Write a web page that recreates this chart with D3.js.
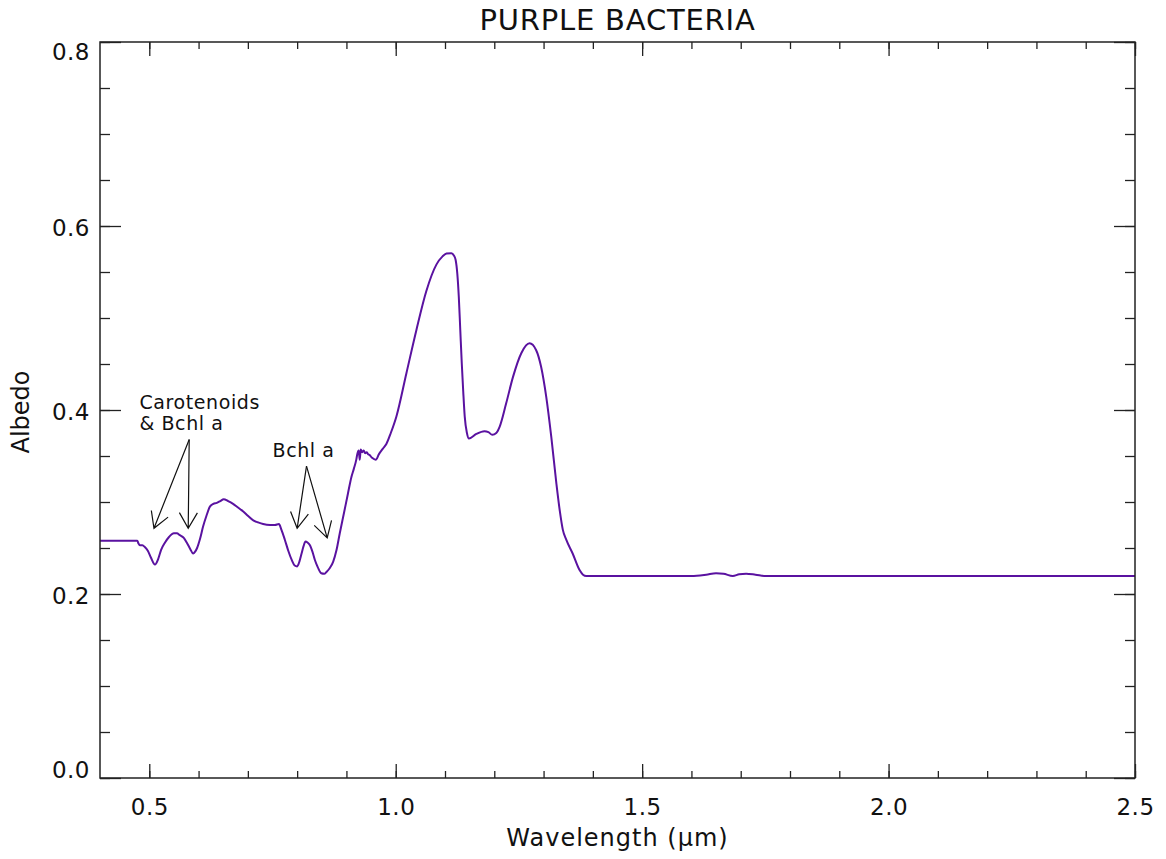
<!DOCTYPE html>
<html>
<head>
<meta charset="utf-8">
<script src="https://cdn.jsdelivr.net/npm/d3@7"></script>
<style>
  html, body { margin: 0; padding: 0; background: #fff; }
  svg { display: block; }
  text { font-family: "DejaVu Sans", sans-serif; fill: #111; }
</style>
</head>
<body>
<div id="chart"></div>
<script>
// Reflectance spectrum of purple bacteria (wavelength in µm, albedo)
const wavelength = [
  0.400, 0.4756, 0.478, 0.481, 0.486, 0.491, 0.497, 0.503, 0.5115, 0.518,
  0.524, 0.532, 0.540, 0.550, 0.556, 0.562, 0.570, 0.577, 0.583, 0.589,
  0.593, 0.597, 0.603, 0.609, 0.616, 0.623, 0.630, 0.637, 0.644, 0.651,
  0.660, 0.670, 0.680, 0.690, 0.700, 0.711, 0.720, 0.731, 0.745, 0.755,
  0.763, 0.768, 0.775, 0.782, 0.789, 0.795, 0.800, 0.805, 0.809, 0.813,
  0.817, 0.821, 0.826, 0.831, 0.836, 0.842, 0.849, 0.855, 0.8595, 0.866,
  0.873, 0.880, 0.8865, 0.895, 0.903, 0.910, 0.915, 0.920, 0.922, 0.925,
  0.927, 0.929, 0.932, 0.935, 0.938, 0.941, 0.944, 0.947, 0.952, 0.9595,
  0.966, 0.974, 0.981, 0.990, 1.0014, 1.0217, 1.042, 1.062, 1.0825, 1.095,
  1.103, 1.113, 1.118, 1.1216, 1.125, 1.128, 1.131, 1.134, 1.137, 1.140,
  1.1445, 1.1486, 1.1636, 1.180, 1.188, 1.196, 1.204, 1.211, 1.224, 1.238,
  1.255, 1.2716, 1.285, 1.295, 1.3055, 1.3156, 1.326, 1.333, 1.339, 1.346,
  1.359, 1.373, 1.380, 1.3866, 1.600, 1.630, 1.650, 1.665, 1.684, 1.697,
  1.711, 1.730, 1.751, 2.500
];
const albedo = [
  0.258, 0.258, 0.255, 0.253, 0.253, 0.251, 0.247, 0.240, 0.232, 0.238,
  0.248, 0.256, 0.262, 0.266, 0.266, 0.264, 0.261, 0.255, 0.249, 0.244,
  0.246, 0.250, 0.260, 0.273, 0.285, 0.295, 0.298, 0.299, 0.301, 0.303,
  0.301, 0.298, 0.294, 0.290, 0.285, 0.280, 0.278, 0.276, 0.275, 0.275,
  0.276, 0.270, 0.259, 0.247, 0.237, 0.231, 0.230, 0.236, 0.244, 0.252,
  0.257, 0.256, 0.253, 0.246, 0.237, 0.229, 0.2225, 0.222, 0.224, 0.228,
  0.235, 0.248, 0.266, 0.288, 0.309, 0.327, 0.336, 0.346, 0.352, 0.356,
  0.346, 0.357, 0.354, 0.356, 0.353, 0.354, 0.352, 0.351, 0.348, 0.346,
  0.352, 0.358, 0.363, 0.375, 0.393, 0.440, 0.487, 0.529, 0.558, 0.567,
  0.570, 0.5705, 0.568, 0.563, 0.548, 0.523, 0.487, 0.451, 0.420, 0.393,
  0.375, 0.369, 0.374, 0.377, 0.376, 0.373, 0.375, 0.382, 0.407, 0.436,
  0.462, 0.4725, 0.465, 0.447, 0.414, 0.371, 0.320, 0.290, 0.270, 0.259,
  0.244, 0.226, 0.221, 0.2196, 0.2196, 0.221, 0.2225, 0.222, 0.2196, 0.2215,
  0.222, 0.221, 0.2196, 0.2196
];

// Axis ticks
const xMajorTicks = [0.5, 1.0, 1.5, 2.0, 2.5];
const xMinorTicks = [0.5, 0.6, 0.7, 0.8, 0.9, 1.0, 1.1, 1.2, 1.3, 1.4, 1.5, 1.6, 1.7, 1.8, 1.9, 2.0, 2.1, 2.2, 2.3, 2.4, 2.5];
const yMajorTicks = [0.0, 0.2, 0.4, 0.6, 0.8];
const yMinorTicks = [0.0, 0.05, 0.1, 0.15, 0.2, 0.25, 0.3, 0.35, 0.4, 0.45, 0.5, 0.55, 0.6, 0.65, 0.7, 0.75, 0.8];

// Annotation labels and arrows (data coordinates)
const labels = [
  { text: "Carotenoids", x: 0.480, y: 0.4015 },
  { text: "& Bchl a", x: 0.480, y: 0.3785 },
  { text: "Bchl a", x: 0.750, y: 0.349 }
];
const arrows = [
  { from: [0.581, 0.368], to: [0.5095, 0.2714] },
  { from: [0.581, 0.368], to: [0.579, 0.2714] },
  { from: [0.819, 0.339], to: [0.800, 0.2714] },
  { from: [0.819, 0.339], to: [0.861, 0.261] }
];

const W = 1166, H = 859;
const margin = { top: 42, right: 31, bottom: 81, left: 100 };
const iw = W - margin.left - margin.right;
const ih = H - margin.top - margin.bottom;

const svg = d3.select("#chart").append("svg")
  .attr("width", W).attr("height", H);

const x = d3.scaleLinear().domain([0.4, 2.5]).range([0, iw]);
const y = d3.scaleLinear().domain([0, 0.8]).range([ih, 0]);

const g = svg.append("g").attr("transform", `translate(${margin.left},${margin.top})`);

// Spectrum line
const pts = wavelength.map((w, i) => [w, albedo[i]]);
const line = d3.line()
  .x(d => x(d[0]))
  .y(d => y(d[1]))
  .curve(d3.curveMonotoneX);

g.append("path")
  .datum(pts)
  .attr("fill", "none")
  .attr("stroke", "#5a12a0")
  .attr("stroke-width", 2)
  .attr("stroke-linejoin", "round")
  .attr("d", line);

// Frame
g.append("rect")
  .attr("x", 0).attr("y", 0).attr("width", iw).attr("height", ih)
  .attr("fill", "none").attr("stroke", "#222").attr("stroke-width", 1.5);

// Tick marks on all four sides (pointing inward)
const styleAxis = sel => {
  sel.select(".domain").remove();
  sel.selectAll(".tick line").attr("stroke", "#222").attr("stroke-width", 1.3);
};
function axisTicks(axisFn, scale, ticks, len, transform) {
  g.append("g").attr("transform", transform || null)
    .call(axisFn(scale).tickValues(ticks).tickSize(len).tickFormat(""))
    .call(styleAxis);
}
// bottom
axisTicks(d3.axisBottom, x, xMinorTicks, -7, `translate(0,${ih})`);
axisTicks(d3.axisBottom, x, xMajorTicks, -14, `translate(0,${ih})`);
// top
axisTicks(d3.axisTop, x, xMinorTicks, -7, null);
axisTicks(d3.axisTop, x, xMajorTicks, -14, null);
// left
axisTicks(d3.axisLeft, y, yMinorTicks, -10, null);
axisTicks(d3.axisLeft, y, yMajorTicks, -21, null);
// right
axisTicks(d3.axisRight, y, yMinorTicks, -10, `translate(${iw},0)`);
axisTicks(d3.axisRight, y, yMajorTicks, -21, `translate(${iw},0)`);

// Tick labels
const xLab = g.append("g").attr("transform", `translate(0,${ih})`)
  .call(d3.axisBottom(x).tickValues(xMajorTicks).tickSize(0).tickFormat(d3.format(".1f")));
xLab.select(".domain").remove();
xLab.selectAll("text")
  .attr("y", 37).attr("dy", 0)
  .style("font-family", "'DejaVu Sans', sans-serif")
  .style("font-size", "23px").style("letter-spacing", "0.5px").attr("fill", "#111");

const yLab = g.append("g")
  .call(d3.axisLeft(y).tickValues(yMajorTicks).tickSize(0).tickFormat(d3.format(".1f")));
yLab.select(".domain").remove();
yLab.selectAll("text")
  .attr("x", -10)
  .attr("dy", d => d === 0.8 ? "0.76em" : (d === 0 ? "-0.02em" : "0.42em"))
  .style("font-family", "'DejaVu Sans', sans-serif")
  .style("font-size", "23px").style("letter-spacing", "0.5px").attr("fill", "#111");

// Title and axis titles
svg.append("text")
  .attr("x", margin.left + iw / 2).attr("y", 30)
  .attr("text-anchor", "middle")
  .style("font-size", "29px")
  .style("letter-spacing", "0.8px")
  .text("PURPLE BACTERIA");

svg.append("text")
  .attr("x", margin.left + iw / 2).attr("y", 846)
  .attr("text-anchor", "middle")
  .style("font-size", "24px")
  .style("letter-spacing", "1px")
  .text("Wavelength (\u03bcm)");

svg.append("text")
  .attr("transform", `translate(29,412) rotate(-90)`)
  .attr("text-anchor", "middle")
  .style("font-size", "24px")
  .text("Albedo");

// Annotations
g.selectAll("text.note").data(labels).enter().append("text")
  .attr("class", "note")
  .attr("x", d => x(d.x)).attr("y", d => y(d.y))
  .style("font-size", "19px")
  .style("letter-spacing", "0.6px")
  .text(d => d.text);

const headLen = 18, headAng = Math.PI / 6;
arrows.forEach(a => {
  const x0 = x(a.from[0]), y0 = y(a.from[1]);
  const x1 = x(a.to[0]), y1 = y(a.to[1]);
  const ang = Math.atan2(y0 - y1, x0 - x1);
  const path = d3.path();
  path.moveTo(x0, y0); path.lineTo(x1, y1);
  path.moveTo(x1 + headLen * Math.cos(ang - headAng), y1 + headLen * Math.sin(ang - headAng));
  path.lineTo(x1, y1);
  path.lineTo(x1 + headLen * Math.cos(ang + headAng), y1 + headLen * Math.sin(ang + headAng));
  g.append("path").attr("d", path.toString())
    .attr("fill", "none").attr("stroke", "#111").attr("stroke-width", 1.2);
});
</script>
</body>
</html>
